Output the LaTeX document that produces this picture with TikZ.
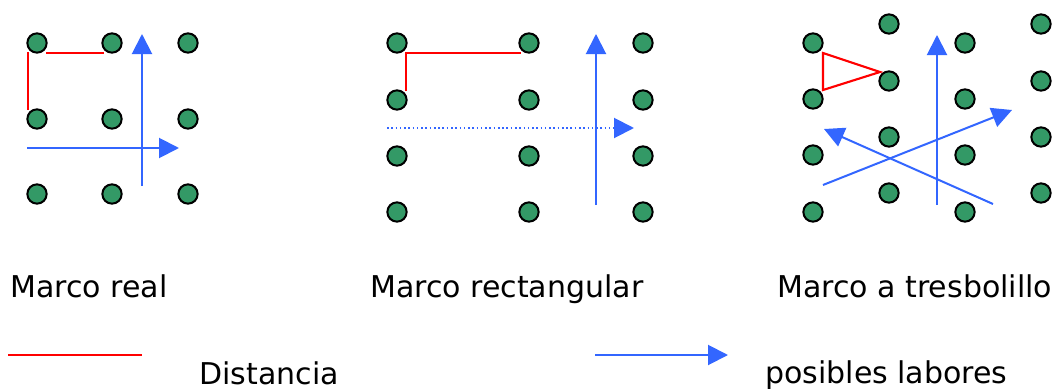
\documentclass[tikz,border=0pt]{standalone}
\usepackage{fontspec}
\setmainfont{DejaVu Sans}
\usepackage{tikz}
\usetikzlibrary{arrows.meta,positioning}
\definecolor{mygreen}{RGB}{51,153,102}
\definecolor{myblue}{RGB}{51,102,255}
\definecolor{myred}{RGB}{255,0,0}
\tikzset{
  plant/.style={circle, draw=black, line width=1.5pt, fill=mygreen,
                minimum size=14.5pt, inner sep=0pt},
  dist/.style={myred, line width=1.6pt},
  labor/.style={myblue, line width=1.5pt, -{Triangle[length=15pt,width=15pt]}},
  caption/.style={anchor=base west, inner sep=0pt, font=\fontsize{22.5}{26}\selectfont}
}
\begin{document}
\begin{tikzpicture}[x=0.75pt, y=-0.75pt]
  \useasboundingbox (0,0) rectangle (1058,389);
  % marco real
  \foreach \x/\i in {37/1,112/2,188/3}
    \foreach \y/\j in {43/1,119/2,194/3}
      \node[plant] (r\i\j) at (\x,\y) {};
  \coordinate (ra) at (28,110);
  \coordinate (rb) at (28,52);
  \coordinate (rc) at (46,53);
  \coordinate (rd) at (104,53);
  \draw[dist] (ra) -- (rb);
  \draw[dist] (rc) -- (rd);
  \coordinate (rv0) at (142,186);
  \coordinate (rv1) at (142,34);
  \coordinate (rh0) at (27,148);
  \coordinate (rh1) at (179,148);
  \draw[labor] (rv0) -- (rv1);
  \draw[labor] (rh0) -- (rh1);
  % marco rectangular
  \foreach \x/\i in {397/1,529/2,643/3}
    \foreach \y/\j in {43/1,100/2,156/3,212/4}
      \node[plant] (q\i\j) at (\x,\y) {};
  \coordinate (qa) at (406,91);
  \coordinate (qb) at (406,53);
  \coordinate (qc) at (521,53);
  \draw[dist] (qa) -- (qb) -- (qc);
  \coordinate (qv0) at (596,205);
  \coordinate (qv1) at (596,34);
  \coordinate (qh0) at (387,128);
  \coordinate (qhm) at (614,128);
  \coordinate (qh1) at (634,128);
  \draw[labor] (qv0) -- (qv1);
  \draw[myblue, line width=1.2pt, dotted] (qh0) -- (qhm);
  \draw[labor] (qhm) -- (qh1);
  % marco a tresbolillo
  \foreach \x/\i in {813/1,965/3}
    \foreach \y/\j in {43/1,99/2,155/3,212/4}
      \node[plant] (t\i\j) at (\x,\y) {};
  \foreach \x/\i in {889/2,1041/4}
    \foreach \y/\j in {24/1,81/2,137/3,193/4}
      \node[plant] (t\i\j) at (\x,\y) {};
  \coordinate (ta) at (823,53);
  \coordinate (tb) at (880,72);
  \coordinate (tc) at (823,90);
  \draw[dist] (ta) -- (tb) -- (tc) -- cycle;
  \coordinate (tv0) at (937,205);
  \coordinate (tv1) at (937,35);
  \coordinate (td0) at (823,185);
  \coordinate (td1) at (1012,110);
  \coordinate (te0) at (993,204);
  \coordinate (te1) at (824,129);
  \draw[labor] (tv0) -- (tv1);
  \draw[labor] (td0) -- (td1);
  \draw[labor] (te0) -- (te1);
  % rotulos
  \node[caption] (real) at (10,297) {Marco real};
  \node[caption] (rect) at (370,297) {Marco rectangular};
  \node[caption] (tres) at (777,297) {Marco a tresbolillo};
  % leyenda
  \coordinate (la) at (8,355);
  \coordinate (lb) at (142,355);
  \draw[dist] (la) -- (lb);
  \node[caption] (dist) at (199,384) {Distancia};
  \coordinate (lc) at (595,355);
  \coordinate (ld) at (728,355);
  \draw[labor] (lc) -- (ld);
  \node[caption] (lab) at (765,383) {posibles labores};
\end{tikzpicture}
\end{document}
